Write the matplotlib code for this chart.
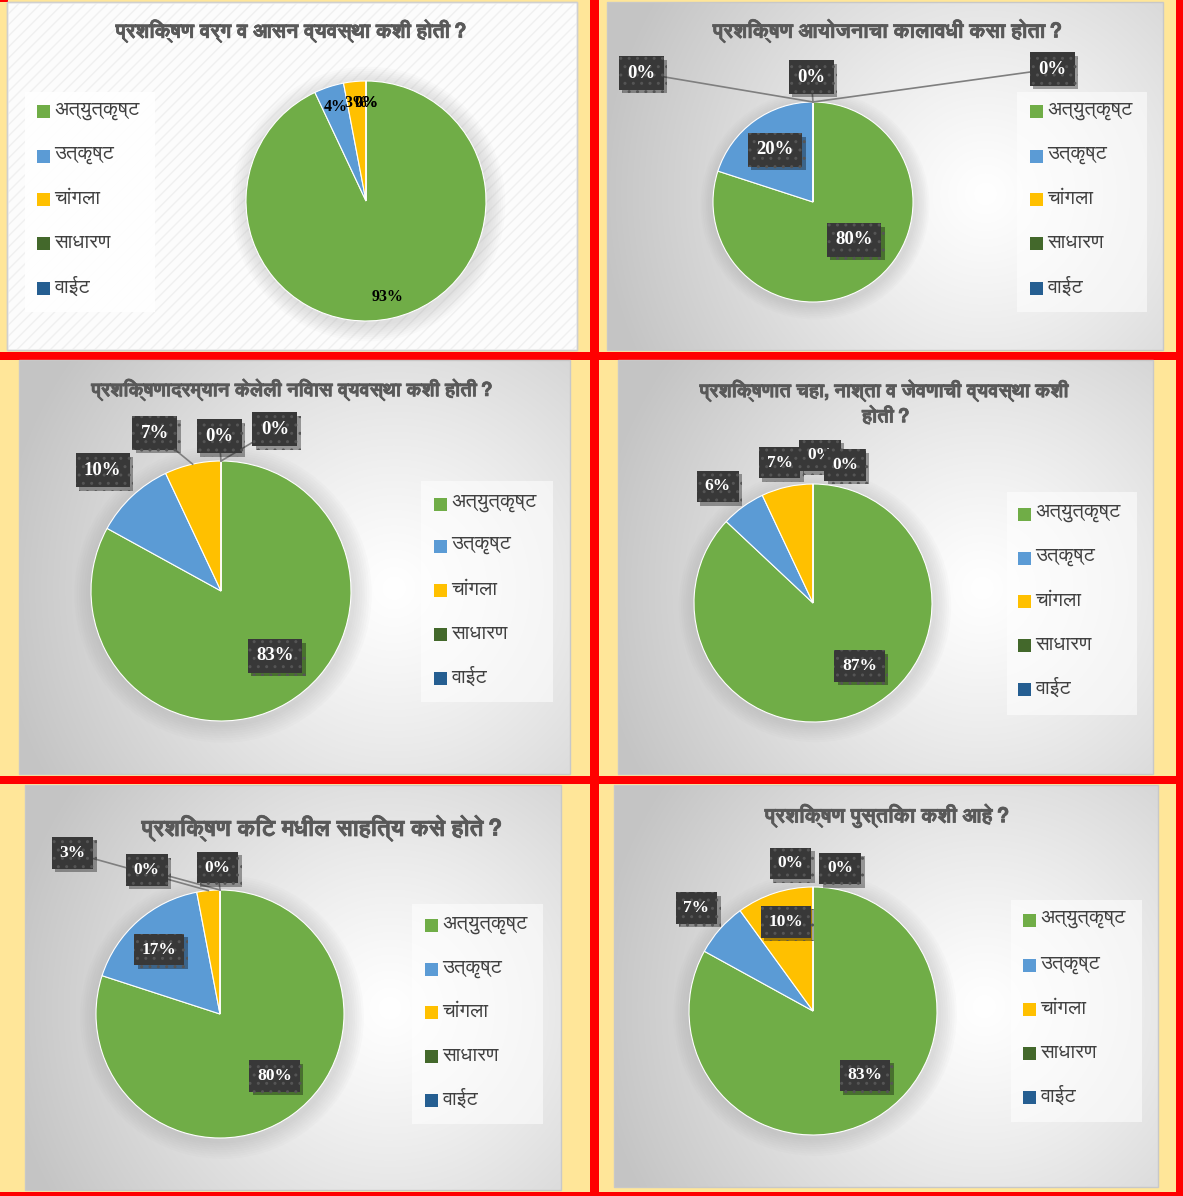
import numpy as np
import matplotlib
matplotlib.use('Agg')
import matplotlib.pyplot as plt
from matplotlib.patches import Rectangle, Circle
import matplotlib.patheffects as pe
import matplotlib.font_manager as fm

# ---------------- data ----------------
categories = ['अत्युत्कृष्ट', 'उत्कृष्ट', 'चांगला', 'साधारण', 'वाईट']

title_1 = 'प्रशिक्षण वर्ग व आसन व्यवस्था कशी होती?'
title_2 = 'प्रशिक्षण आयोजनाचा कालावधी कसा होता?'
title_3 = 'प्रशिक्षणादरम्यान केलेली निवास व्यवस्था कशी होती?'
title_4 = 'प्रशिक्षणात चहा, नाश्ता व जेवणाची व्यवस्था कशी\nहोती?'
title_5 = 'प्रशिक्षण किट मधील साहित्य कसे होते?'
title_6 = 'प्रशिक्षण पुस्तिका कशी आहे?'

values_1 = [93, 4, 3, 0, 0]
values_2 = [80, 20, 0, 0, 0]
values_3 = [83, 10, 7, 0, 0]
values_4 = [87, 6, 7, 0, 0]
values_5 = [80, 17, 3, 0, 0]
values_6 = [83, 7, 10, 0, 0]

# ---------------- style ----------------
colors = ['#70AD47', '#5B9BD5', '#FFC000', '#43682B', '#255E91']
W, H = 1183, 1196
YELLOW = '#FFE699'
RED = '#FF0000'


def find_deva_font():
    keys = ('devanagari', 'lohit', 'mukta', 'hind', 'gargi', 'kalimati', 'mangal', 'nirmala',
            'sarai', 'samanata', 'annapurna', 'yatra', 'kokila', 'utsaah', 'aparajita', 'chandas',
            'sahadeva', 'nakula', 'rekha', 'kalam', 'poppins', 'martel', 'laila', 'karma', 'sumana',
            'biryani', 'teko', 'amiko', 'freesans', 'freeserif')
    cands = [f for f in fm.fontManager.ttflist
             if any(k in f.name.lower() or k in f.fname.lower() for k in keys)]
    try:
        from fontTools.ttLib import TTFont
        for f in cands:
            try:
                tt = TTFont(f.fname, fontNumber=0, lazy=True)
                cm = tt.getBestCmap()
                if cm and 0x915 in cm:
                    return f.name
            except Exception:
                pass
        for f in fm.fontManager.ttflist:
            if f.fname.lower().endswith(('.ttc', '.otc')):
                continue
            try:
                tt = TTFont(f.fname, lazy=True)
                cm = tt.getBestCmap()
                if cm and 0x915 in cm:
                    return f.name
            except Exception:
                pass
    except Exception:
        pass
    return None


deva = find_deva_font()
DEVA_FAMILY = ([deva] if deva else []) + ['DejaVu Sans']
plt.rcParams['font.family'] = DEVA_FAMILY

# panel layout in pixels
panels = [
    dict(vals=values_1, title=title_1, rect=(7, 2, 577, 350), c=(366, 201), r=120,
         leg=(25, 92, 155, 312), rows=(110, 155, 198, 242, 287), mx=43,
         tpos=(293, 31), tsize=14.5, lsize=11.5, plain=True, gradient=False,
         lab=None, lead=()),
    dict(vals=values_2, title=title_2, rect=(607, 2, 1163, 350), c=(813, 202), r=100,
         leg=(1017, 92, 1147, 312), rows=(110, 155, 198, 242, 287), mx=1036,
         tpos=(886, 31), tsize=14.8, lsize=13.5, plain=False, gradient=True,
         lab=[(0.41, -0.38), (-0.38, 0.52), (-1.72, 1.29), (-0.02, 1.25), (2.39, 1.33)],
         lead=(2, 3, 4)),
    dict(vals=values_3, title=title_3, rect=(19, 360, 570, 774), c=(221, 591), r=130,
         leg=(421, 481, 553, 702), rows=(503, 545, 589, 633, 677), mx=440,
         tpos=(294, 390), tsize=13.8, lsize=13.5, plain=False, gradient=True,
         lab=[(0.415, -0.50), (-0.91, 0.93), (-0.51, 1.215), (-0.015, 1.19), (0.415, 1.245)],
         lead=(2, 3, 4)),
    dict(vals=values_4, title=title_4, rect=(618, 360, 1153, 774), c=(813, 603), r=119,
         leg=(1007, 492, 1137, 715), rows=(513, 557, 600, 644, 688), mx=1024,
         tpos=(886, 403), tsize=13.8, lsize=12.5, plain=False, gradient=True,
         lab=[(0.39, -0.53), (-0.80, 0.98), (-0.28, 1.18), (0.06, 1.24), (0.27, 1.16)],
         lead=()),
    dict(vals=values_5, title=title_5, rect=(25, 785, 561, 1190), c=(220, 1014), r=124,
         leg=(412, 904, 543, 1124), rows=(924, 968, 1011, 1055, 1099), mx=431,
         tpos=(321, 828), tsize=16.5, lsize=12.5, plain=False, gradient=True,
         lab=[(0.44, -0.50), (-0.49, 0.52), (-1.19, 1.30), (-0.59, 1.16), (-0.02, 1.18)],
         lead=(2, 3, 4)),
    dict(vals=values_6, title=title_6, rect=(614, 785, 1158, 1187), c=(813, 1011), r=124,
         leg=(1011, 900, 1142, 1122), rows=(919, 964, 1008, 1052, 1096), mx=1029,
         tpos=(886, 816), tsize=14.8, lsize=12.5, plain=False, gradient=True,
         lab=[(0.42, -0.52), (-0.94, 0.83), (-0.22, 0.72), (-0.18, 1.19), (0.22, 1.15)],
         lead=()),
]

fig = plt.figure(figsize=(W / 100, H / 100), dpi=100)
fig.patch.set_facecolor(YELLOW)

canvas = fig.add_axes([0, 0, 1, 1])
canvas.set_xlim(0, W)
canvas.set_ylim(H, 0)
canvas.axis('off')

# red separators / frame
canvas.add_patch(Rectangle((590, 0), 9, H, color=RED, lw=0, zorder=1))
canvas.add_patch(Rectangle((1176, 0), 7, H, color=RED, lw=0, zorder=1))
canvas.add_patch(Rectangle((0, 352), W, 8, color=RED, lw=0, zorder=1))
canvas.add_patch(Rectangle((0, 776), W, 8, color=RED, lw=0, zorder=1))
canvas.add_patch(Rectangle((0, 1192), W, 4, color=RED, lw=0, zorder=1))
canvas.add_patch(Rectangle((0, 0), 8, 1.5, color=RED, lw=0, zorder=1))


def gradient_image(w, h, cx=0.68, cy=0.55):
    yy, xx = np.mgrid[0:h, 0:w]
    dx = (xx / w - cx) * w
    dy = (yy / h - cy) * h
    d = np.sqrt(dx ** 2 + dy ** 2)
    d = d / d.max()
    v = np.clip(d * 1.1, 0, 1) ** 1.15
    lo = np.array([0.77, 0.77, 0.77])
    hi = np.array([1.0, 1.0, 1.0])
    img = hi[None, None, :] * (1 - v[..., None]) + lo[None, None, :] * v[..., None]
    return img


title_fx = [pe.withStroke(linewidth=0.5, foreground='#595959')]

for p in panels:
    x0, y0, x1, y1 = p['rect']
    w, h = x1 - x0, y1 - y0
    if p['gradient']:
        canvas.imshow(gradient_image(w, h), extent=(x0, x1, y1, y0), zorder=2,
                      interpolation='bilinear', aspect='auto')
        canvas.add_patch(Rectangle((x0, y0), w, h, fill=False, ec='#c8c8c8', lw=1, zorder=3))
    else:
        canvas.add_patch(Rectangle((x0, y0), w, h, fc='#fcfcfc', ec='#d0d0d0', lw=1, zorder=2))
        canvas.add_patch(Rectangle((x0, y0), w, h, fill=False, ec='#f0f0f0', lw=0,
                                   hatch='///', zorder=2.5))
        canvas.add_patch(Rectangle((x0, y0), w, h, fill=False, ec='#d0d0d0', lw=1, zorder=3))
    # legend box
    lx0, ly0, lx1, ly1 = p['leg']
    canvas.add_patch(Rectangle((lx0, ly0), lx1 - lx0, ly1 - ly0,
                               fc='white', alpha=0.55 if p['gradient'] else 0.9, lw=0, zorder=4))
    for cat, col, yy in zip(categories, colors, p['rows']):
        canvas.add_patch(Rectangle((p['mx'] - 6, yy - 5), 13, 13, color=col, lw=0, zorder=5))
        canvas.text(p['mx'] + 11, yy, cat, fontsize=14.5, color='#404040', va='center',
                    ha='left', zorder=6, family=DEVA_FAMILY)
    # title
    canvas.text(p['tpos'][0], p['tpos'][1], p['title'], fontsize=p['tsize'], fontweight='bold',
                color='#595959', ha='center', va='center', zorder=6, family=DEVA_FAMILY,
                linespacing=1.35, path_effects=title_fx)
    # soft glow under pie
    cx, cy = p['c']
    r = p['r']
    for k in range(8):
        canvas.add_patch(Circle((cx + 2, cy + 3), r * (1.0 + 0.018 * (k + 1)), fc='#8a8a8a',
                                alpha=0.03, lw=0, zorder=4))

# pies
for p in panels:
    cx, cy = p['c']
    r = p['r']
    ax = fig.add_axes([(cx - r) / W, 1 - (cy + r) / H, 2 * r / W, 2 * r / H])
    vals = p['vals']
    ax.pie(vals, colors=colors, startangle=90, counterclock=False, radius=1,
           wedgeprops=dict(linewidth=0.8, edgecolor='white'))
    ax.set_xlim(-1, 1)
    ax.set_ylim(-1, 1)
    ax.axis('off')
    total = float(sum(vals))
    cum = 0.0
    mids = []
    for v in vals:
        mids.append(np.deg2rad(90 - (cum + v / 2) / total * 360))
        cum += v
    for i, v in enumerate(vals):
        txt = f'{v}%'
        if p['plain']:
            x, y = 0.82 * np.cos(mids[i]), 0.82 * np.sin(mids[i])
            ax.text(x, y, txt, ha='center', va='center', fontsize=p['lsize'], fontweight='bold',
                    family=['Liberation Serif', 'DejaVu Serif'], color='black', clip_on=False,
                    zorder=10)
        else:
            x, y = p['lab'][i]
            if i in p['lead']:
                ex, ey = np.cos(mids[i]), np.sin(mids[i])
                ax.plot([x, ex], [y, ey], color='#7f7f7f', lw=1.2, clip_on=False, zorder=8)
            t = ax.text(x, y, txt, ha='center', va='center', fontsize=p['lsize'],
                        fontweight='bold', family=['Liberation Serif', 'DejaVu Serif'],
                        color='white', clip_on=False, zorder=10 + i,
                        bbox=dict(boxstyle='square,pad=0.45', fc='#383838', ec='#555555',
                                  lw=0, hatch='..'))
            t.get_bbox_patch().set_path_effects(
                [pe.SimplePatchShadow(offset=(2.5, -2.5), shadow_rgbFace='black', alpha=0.35),
                 pe.Normal()])

fig.savefig('out.png', dpi=100, facecolor=YELLOW)
